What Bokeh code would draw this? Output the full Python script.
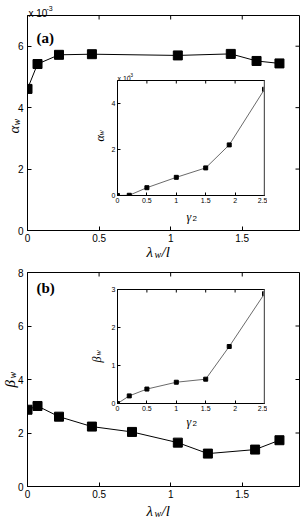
import math
from bokeh.plotting import figure
from bokeh.models import Range1d, FixedTicker, Label, Span, GridBox, Column
from bokeh.embed import file_html
from bokeh.resources import INLINE

# ---------------- data ----------------
lam_a = [0.0, 0.07, 0.22, 0.45, 1.05, 1.42, 1.60, 1.76]
alpha_a = [4.61, 5.42, 5.72, 5.74, 5.70, 5.75, 5.52, 5.44]
gamma_a = [0.0, 0.2, 0.5, 1.0, 1.5, 1.9, 2.5]
alpha_in = [0.0, 0.01, 0.34, 0.79, 1.20, 2.20, 4.62]

lam_b = [0.0, 0.07, 0.22, 0.45, 0.73, 1.05, 1.26, 1.59, 1.76]
beta_b = [2.87, 3.01, 2.61, 2.24, 2.04, 1.64, 1.23, 1.38, 1.73]
gamma_b = [0.0, 0.2, 0.5, 1.0, 1.5, 1.9, 2.5]
beta_in = [0.0, 0.20, 0.38, 0.56, 0.64, 1.50, 2.89]

main_x_ticks = [0, 0.5, 1, 1.5]
main_x_labels = ["0", "0.5", "1", "1.5"]
alpha_ticks = [0, 2, 4, 6]
alpha_labels = ["0", "2", "4", "6"]
beta_ticks = [0, 2, 4, 6, 8]
beta_labels = ["0", "2", "4", "6", "8"]
gamma_ticks = [0, 0.5, 1, 1.5, 2, 2.5]
gamma_labels = ["0", "0.5", "1", "1.5", "2", "2.5"]
alpha_in_ticks = [0, 2, 4]
alpha_in_labels = ["0", "2", "4"]
beta_in_ticks = [0, 1, 2, 3]
beta_in_labels = ["0", "1", "2", "3"]

SERIF = "Liberation Serif"
SANS = "Liberation Sans"
W, H = 300, 518


def add_text(p, x, y, s, size, font=SANS, style="normal", angle=0.0):
    p.add_layout(Label(x=x, y=y, x_units="screen", y_units="screen", text=s,
                       text_font=font, text_font_size=f"{size}px",
                       text_font_style=style, angle=angle, text_color="black",
                       text_align="left", text_baseline="alphabetic"))


def style_axis(ax, ticks, labels, fsize, tlen, standoff):
    ax.ticker = FixedTicker(ticks=ticks)
    ax.major_label_overrides = {t: l for t, l in zip(ticks, labels)}
    ax.minor_tick_line_color = None
    ax.major_tick_in = tlen
    ax.major_tick_out = 0
    ax.axis_line_color = "black"
    ax.major_tick_line_color = "black"
    ax.major_label_text_font = SANS
    ax.major_label_text_color = "black"
    ax.major_label_standoff = standoff
    ax.major_label_text_font_size = f"{fsize}px"


def mirror_ticks(p, xticks, yticks, tlen, right=True):
    # inward tick marks on the top (and right) frame edges, clipped by the frame
    xt = p.x_range.end
    yt = p.y_range.end
    p.scatter(xticks, [yt] * len(xticks), marker="dash", angle=math.pi / 2,
              size=2 * tlen, line_color="black", line_width=1)
    if right:
        p.scatter([xt] * len(yticks), yticks, marker="dash", size=2 * tlen,
                  line_color="black", line_width=1)


def main_fig(h, bt, bb, ymax, yticks, ylabels):
    p = figure(width=W, height=h, x_range=Range1d(0, 1.9), y_range=Range1d(0, ymax),
               output_backend="svg", toolbar_location=None, frame_align=False,
               min_border_left=27, min_border_right=1, min_border_top=bt,
               min_border_bottom=bb)
    p.grid.visible = False
    p.outline_line_color = "black"
    p.background_fill_color = "white"
    p.border_fill_color = "white"
    style_axis(p.xaxis[0], main_x_ticks, main_x_labels, 10, 4, 3)
    style_axis(p.yaxis[0], yticks, ylabels, 10, 4, 4)
    mirror_ticks(p, main_x_ticks, yticks, 4)
    return p


def inset_fig(w, h, bl, br, bt, bb, ymax, yticks, ylabels):
    p = figure(width=w, height=h, x_range=Range1d(0, 2.5), y_range=Range1d(0, ymax),
               output_backend="svg", toolbar_location=None, frame_align=False,
               min_border_left=bl, min_border_right=br, min_border_top=bt,
               min_border_bottom=bb)
    p.grid.visible = False
    p.outline_line_color = "black"
    p.background_fill_color = "white"
    p.border_fill_alpha = 0
    style_axis(p.xaxis[0], gamma_ticks, gamma_labels, 7, 3, 2)
    style_axis(p.yaxis[0], yticks, ylabels, 7, 3, 2)
    mirror_ticks(p, gamma_ticks, yticks, 3, right=False)
    p.add_layout(Span(location=p.x_range.end, dimension="height",
                      line_color="#b4b4b4", line_width=2))
    return p


# ---------------- panel (a) ----------------
pa = main_fig(256, 15, 26, 7, alpha_ticks, alpha_labels)
pa.line(lam_a, alpha_a, line_color="black", line_width=1)
pa.scatter(lam_a, alpha_a, marker="square", size=9, fill_color="black", line_color="black")

ia = inset_fig(177, 154, 27, 3, 12, 27, 5, alpha_in_ticks, alpha_in_labels)
ia.line(gamma_a, alpha_in, line_color="#6a6a6a", line_width=1)
ia.scatter(gamma_a, alpha_in, marker="square", size=4, fill_color="black", line_color="black")

# ---------------- panel (b) ----------------
pb = main_fig(262, 16, 32, 8, beta_ticks, beta_labels)
pb.line(lam_b, beta_b, line_color="black", line_width=1)
pb.scatter(lam_b, beta_b, marker="square", size=9, fill_color="black", line_color="black")

ib = inset_fig(177, 142, 27, 3, 6, 22, 3, beta_in_ticks, beta_in_labels)
ib.line(gamma_b, beta_in, line_color="#6a6a6a", line_width=1)
ib.scatter(gamma_b, beta_in, marker="square", size=4, fill_color="black", line_color="black")

# ---------------- transparent overlay for all free texts ----------------
ov = figure(width=W, height=H, x_range=Range1d(0, 1), y_range=Range1d(0, 1),
            output_backend="svg", toolbar_location=None, frame_align=False,
            x_axis_location=None, y_axis_location=None,
            min_border=0, min_border_left=0, min_border_right=0,
            min_border_top=0, min_border_bottom=0)
ov.grid.visible = False
ov.outline_line_color = None
ov.background_fill_alpha = 0
ov.border_fill_alpha = 0

# panel (a)
add_text(ov, 28, 505, "x 10", 10)
add_text(ov, 46, 510, "-3", 7)
add_text(ov, 36, 481, "(a)", 15, SERIF, "bold")
add_text(ov, 13, 385, "α", 15, SERIF, "italic", math.pi / 2)
add_text(ov, 16, 393, "w", 10, SERIF, "italic", math.pi / 2)
add_text(ov, 146, 267, "λ", 15, SERIF, "italic")
add_text(ov, 154, 264, "w", 10, SERIF, "italic")
add_text(ov, 161, 267, "/l", 15, SERIF, "italic")
# inset (a)
add_text(ov, 117, 440, "x 10", 7)
add_text(ov, 128, 444, "-3", 5)
add_text(ov, 99, 377, "α", 12, SERIF, "italic", math.pi / 2)
add_text(ov, 101, 383, "w", 8, SERIF, "italic", math.pi / 2)
add_text(ov, 186, 302, "γ", 12, SERIF, "italic")
add_text(ov, 192, 300, "2", 8, SANS)
# panel (b)
add_text(ov, 36, 231, "(b)", 15, SERIF, "bold")
add_text(ov, 9, 131, "β", 15, SERIF, "italic", math.pi / 2)
add_text(ov, 12, 140, "w", 10, SERIF, "italic", math.pi / 2)
add_text(ov, 146, 8, "λ", 15, SERIF, "italic")
add_text(ov, 154, 5, "w", 10, SERIF, "italic")
add_text(ov, 161, 8, "/l", 15, SERIF, "italic")
# inset (b)
add_text(ov, 96, 156, "β", 12, SERIF, "italic", math.pi / 2)
add_text(ov, 98, 163, "w", 8, SERIF, "italic", math.pi / 2)
add_text(ov, 186, 97, "γ", 12, SERIF, "italic")
add_text(ov, 192, 95, "2", 8, SANS)

grid = GridBox(children=[(Column(children=[pa]), 0, 0, 3, 3),
                         (Column(children=[ia]), 1, 1, 1, 1),
                         (Column(children=[pb]), 3, 0, 3, 3),
                         (Column(children=[ib]), 4, 1, 1, 1),
                         (Column(children=[ov]), 0, 0, 6, 3)],
               rows=["68px", "154px", "34px", "27px", "142px", "93px"],
               cols=["90px", "177px", "33px"])

open("out.html", "w").write(file_html(grid, INLINE))
